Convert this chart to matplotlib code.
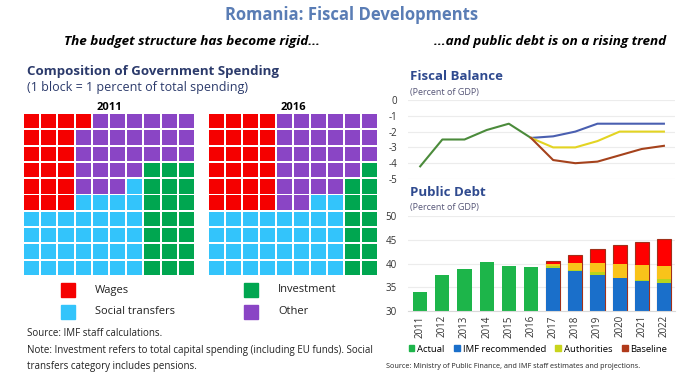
import numpy as np
import matplotlib
matplotlib.use('Agg')
import matplotlib.pyplot as plt
from matplotlib.patches import Patch, Rectangle

plt.rcParams['font.family'] = ['Open Sans', 'DejaVu Sans']
plt.rcParams['axes.unicode_minus'] = False

# ---- data ----
categories = ['Wages', 'Social transfers', 'Investment', 'Other']
cat_colors = ['#f50000', '#33c4fb', '#00a650', '#8a45c5']
# waffle layout, 10x10 (W=wages, S=social, I=investment, O=other)
grid_2011 = ['WWWWOOOOOO',
             'WWWOOOOOOO',
             'WWWOOOOOOO',
             'WWWOOOOIII',
             'WWWOOOSIII',
             'WWWSSSSIII',
             'SSSSSSSIII',
             'SSSSSSSIII',
             'SSSSSSSIII',
             'SSSSSSSIII']
grid_2016 = ['WWWWOOOOOO',
             'WWWWOOOOOO',
             'WWWWOOOOOO',
             'WWWWOOOOOI',
             'WWWWOOOOII',
             'WWWWOOSSII',
             'SSSSSSSSII',
             'SSSSSSSSII',
             'SSSSSSSSII',
             'SSSSSSSSII']

years = np.arange(2011, 2023)
fb_actual_years = [2011, 2012, 2013, 2014, 2015, 2016]
fb_actual = [-4.2, -2.5, -2.5, -1.9, -1.5, -2.4]
proj_years = [2016, 2017, 2018, 2019, 2020, 2021, 2022]
fb_imf = [-2.4, -2.3, -2.0, -1.5, -1.5, -1.5, -1.5]
fb_auth = [-2.4, -3.0, -3.0, -2.6, -2.0, -2.0, -2.0]
fb_base = [-2.4, -3.8, -4.0, -3.9, -3.5, -3.1, -2.9]

debt_actual_years = [2011, 2012, 2013, 2014, 2015, 2016]
debt_actual = [33.9, 37.6, 38.8, 40.4, 39.4, 39.3]
debt_proj_years = [2017, 2018, 2019, 2020, 2021, 2022]
debt_imf = [39.1, 38.5, 37.6, 36.9, 36.3, 35.8]
debt_lime = [39.5, 38.6, 38.2, 37.0, 36.6, 36.8]
debt_auth = [40.0, 40.1, 40.2, 39.9, 39.7, 39.4]
debt_base = [40.6, 41.8, 43.1, 43.9, 44.5, 45.1]

W, H = 700, 382
fig = plt.figure(figsize=(7, 3.82), dpi=100)


def px_axes(x0, y0, x1, y1):
    # pixel box (top-left origin) -> figure axes
    return fig.add_axes([x0 / W, 1 - y1 / H, (x1 - x0) / W, (y1 - y0) / H])


# ---- titles ----
fig.text(352 / W, 1 - 15 / H, 'Romania: Fiscal Developments', ha='center', va='center',
         fontsize=12, fontweight='bold', color='#5a7db5')
fig.text(192 / W, 1 - 42 / H, 'The budget structure has become rigid...', ha='center', va='center',
         fontsize=9.7, fontweight='bold', style='italic', color='black')
fig.text(550 / W, 1 - 42 / H, '...and public debt is on a rising trend', ha='center', va='center',
         fontsize=9.7, fontweight='bold', style='italic', color='black')

# ---- waffles ----
fig.text(27 / W, 1 - 71 / H, 'Composition of Government Spending', ha='left', va='center',
         fontsize=9.5, fontweight='bold', color='#2b3a6b')
fig.text(27 / W, 1 - 88 / H, '(1 block = 1 percent of total spending)', ha='left', va='center',
         fontsize=9, color='#2b3a6b')

codes = {'W': 0, 'S': 1, 'I': 2, 'O': 3}
gap = 0.12
for grid, label, box in [(grid_2011, '2011', (23, 113, 195, 276)),
                         (grid_2016, '2016', (208, 113, 378, 276))]:
    ax = px_axes(*box)
    for r, row in enumerate(grid):
        for c, ch in enumerate(row):
            ax.add_patch(Rectangle((c + gap / 2, r + gap / 2), 1 - gap, 1 - gap,
                                   color=cat_colors[codes[ch]], lw=0))
    ax.set_xlim(0, 10)
    ax.set_ylim(10, 0)
    ax.axis('off')
    ax.set_title(label, fontsize=8, fontweight='bold', pad=2)

leg_pos = [(68, 290), (68, 312), (251, 290), (251, 312)]
for (x, y), name, col in zip(leg_pos, categories, cat_colors):
    fig.patches.append(plt.Rectangle(((x - 7) / W, 1 - (y + 7) / H), 14 / W, 14 / H,
                                     transform=fig.transFigure, color=col))
    fig.text((x + 27) / W, 1 - y / H, name, ha='left', va='center', fontsize=8, color='#222222')

fig.text(27 / W, 1 - 334 / H, 'Source: IMF staff calculations.', fontsize=7, va='center', color='#222222')
fig.text(27 / W, 1 - 351 / H, 'Note: Investment refers to total capital spending (including EU funds). Social',
         fontsize=7, va='center', color='#222222')
fig.text(27 / W, 1 - 366 / H, 'transfers category includes pensions.', fontsize=7, va='center', color='#222222')

# ---- fiscal balance ----
xl = (2010.45, 2022.5)
ax1 = px_axes(408, 100, 675, 179)
ax1.plot(fb_actual_years, fb_actual, color='#4b8b3b', lw=1.5)
ax1.plot(proj_years, fb_imf, color='#4a5fb0', lw=1.5)
ax1.plot(proj_years, fb_auth, color='#e3d422', lw=1.5)
ax1.plot(proj_years, fb_base, color='#a5421c', lw=1.5)
ax1.set_xlim(*xl)
ax1.set_ylim(-5, 0)
ax1.set_yticks(range(-5, 1))
ax1.set_xticks([])
ax1.grid(axis='y', color='#ececec', lw=0.8)
ax1.set_axisbelow(True)
for s in ax1.spines.values():
    s.set_visible(False)
ax1.tick_params(axis='y', length=0, labelsize=7, colors='#333333', pad=8)
fig.text(410 / W, 1 - 77 / H, 'Fiscal Balance', fontsize=9.5, fontweight='bold', color='#2f4a8f', va='center')
fig.text(410 / W, 1 - 92 / H, '(Percent of GDP)', fontsize=6.5, color='#555577', va='center')

# ---- public debt ----
ax2 = px_axes(408, 216, 675, 311)
bw = 0.64
ax2.bar(debt_actual_years, debt_actual, width=bw, color='#1db54a', label='Actual')
ax2.bar(debt_proj_years, np.array(debt_base) - 30, bottom=30, width=bw, color='#ff0000',
        edgecolor='#a0301a', lw=0.8, label='Baseline')
ax2.bar(debt_proj_years, np.array(debt_auth) - 30, bottom=30, width=bw, color='#f9c31a')
ax2.bar(debt_proj_years, np.array(debt_lime) - 30, bottom=30, width=bw, color='#b8d41c')
ax2.bar(debt_proj_years, np.array(debt_imf) - 30, bottom=30, width=bw, color='#1a6fca')
ax2.set_xlim(*xl)
ax2.set_ylim(30, 50)
ax2.set_yticks([30, 35, 40, 45, 50])
ax2.set_xticks(years)
ax2.set_xticklabels([str(y) for y in years], rotation=90)
ax2.grid(axis='y', color='#ececec', lw=0.8)
ax2.set_axisbelow(True)
for k in ['top', 'right', 'left']:
    ax2.spines[k].set_visible(False)
ax2.spines['bottom'].set_color('#d9d9d9')
ax2.tick_params(axis='y', length=0, labelsize=7, colors='#333333', pad=8)
ax2.tick_params(axis='x', length=0, labelsize=7, colors='#333333', pad=3)
fig.text(410 / W, 1 - 193 / H, 'Public Debt', fontsize=9.5, fontweight='bold', color='#2f4a8f', va='center')
fig.text(410 / W, 1 - 207 / H, '(Percent of GDP)', fontsize=6.5, color='#555577', va='center')

handles = [Patch(color='#1db54a'), Patch(color='#1a6fca'), Patch(color='#c8d41c'), Patch(color='#b03a1a')]
fig.legend(handles, ['Actual', 'IMF recommended', 'Authorities', 'Baseline'], ncol=4,
           loc='center', bbox_to_anchor=(538 / W, 1 - 349 / H), frameon=False, fontsize=6.8,
           handlelength=0.6, handleheight=0.6, handletextpad=0.3, columnspacing=1.0)
fig.text(386 / W, 1 - 366 / H, 'Source: Ministry of Public Finance, and IMF staff estimates and projections.',
         fontsize=5.2, va='center', color='#222222')

fig.savefig('out.png', dpi=100)
